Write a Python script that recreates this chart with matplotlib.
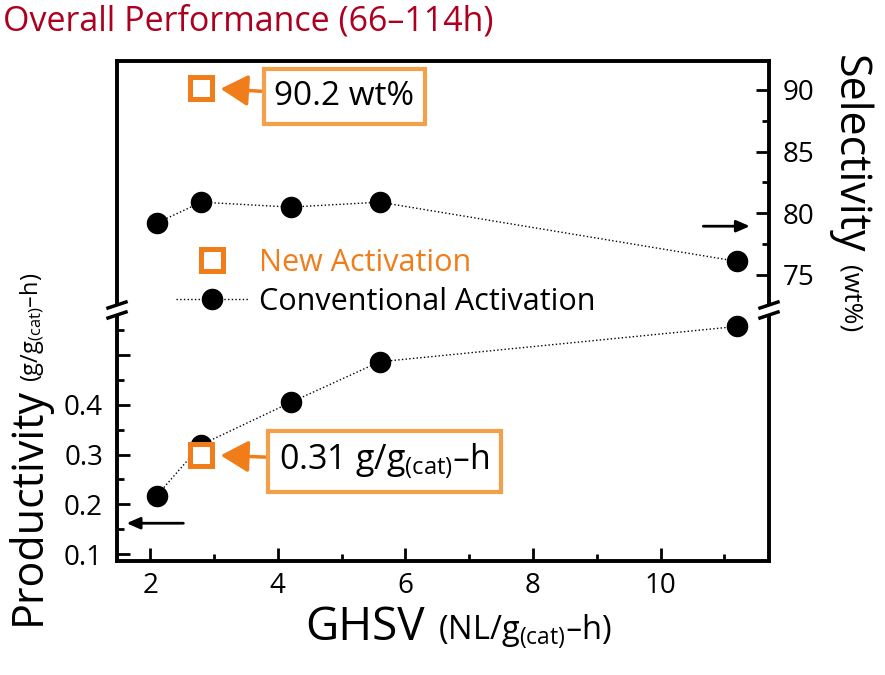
import matplotlib
matplotlib.use('Agg')
import matplotlib.pyplot as plt
from matplotlib.lines import Line2D
from matplotlib.ticker import MultipleLocator, FixedLocator

plt.rcParams['font.family'] = ['Open Sans', 'DejaVu Sans']
plt.rcParams['mathtext.default'] = 'regular'

# data
ghsv = [2.1, 2.8, 4.2, 5.6, 11.2]
conv_selectivity = [79.2, 80.9, 80.5, 80.9, 76.1]
conv_productivity = [0.217, 0.32, 0.405, 0.487, 0.558]
new_ghsv = [2.8]
new_selectivity = [90.2]
new_productivity = [0.30]

orange = '#F07D1A'
box_orange = '#F2A04A'

W, H = 885, 675
fig = plt.figure(figsize=(W / 100, H / 100), dpi=100)


def fx(px):
    return px / W


def fy(py):
    return 1 - py / H


L, R, T, B = 117, 769, 61, 561
ax_top = fig.add_axes([fx(L), fy(304), fx(R) - fx(L), fy(T) - fy(304)])
ax_bot = fig.add_axes([fx(L), fy(B), fx(R) - fx(L), fy(316) - fy(B)])

for ax in (ax_top, ax_bot):
    ax.set_xlim(1.48, 11.7)
    for s in ax.spines.values():
        s.set_linewidth(2.8)

ax_top.spines['bottom'].set_visible(False)
ax_bot.spines['top'].set_visible(False)

# top: selectivity (right axis)
ax_top.set_ylim(72.64, 92.35)
ax_top.tick_params(axis='x', which='both', bottom=False, labelbottom=False)
ax_top.tick_params(axis='y', which='both', left=False, labelleft=False,
                   right=True, labelright=True, direction='in', width=2)
ax_top.tick_params(axis='y', which='major', length=9.5, labelsize=20, pad=10)
ax_top.tick_params(axis='y', which='minor', length=5)
ax_top.yaxis.set_major_locator(FixedLocator([75, 80, 85, 90]))
ax_top.yaxis.set_minor_locator(FixedLocator([77.5, 82.5, 87.5]))

# bottom: productivity (left axis)
ax_bot.set_ylim(0.086, 0.579)
ax_bot.yaxis.set_major_locator(FixedLocator([0.1, 0.2, 0.3, 0.4, 0.5]))
ax_bot.yaxis.set_minor_locator(FixedLocator([0.15, 0.25, 0.35, 0.45, 0.55]))
ax_bot.set_yticklabels(['0.1', '0.2', '0.3', '0.4', ''])
ax_bot.xaxis.set_major_locator(MultipleLocator(2))
ax_bot.xaxis.set_minor_locator(MultipleLocator(1))
ax_bot.tick_params(which='both', direction='in', width=2, top=False, right=False)
ax_bot.tick_params(which='major', length=9.5, labelsize=20)
ax_bot.tick_params(which='minor', length=5)
ax_bot.tick_params(axis='y', pad=10)
ax_bot.tick_params(axis='x', pad=8)

# conventional activation
ax_top.plot(ghsv, conv_selectivity, ls=':', lw=1, color='black',
            marker='o', ms=14.5, zorder=3, clip_on=False)
ax_bot.plot(ghsv, conv_productivity, ls=':', lw=1, color='black',
            marker='o', ms=14.5, zorder=3, clip_on=False)

# new activation
ax_top.plot(new_ghsv, new_selectivity, ls='none', marker='s', ms=16,
            mfc='white', mec=orange, mew=3.6, zorder=4)
ax_bot.plot(new_ghsv, new_productivity, ls='none', marker='s', ms=16,
            mfc='white', mec=orange, mew=3.6, zorder=4)

# call-out boxes
bbox = dict(boxstyle='square,pad=0.32', fc='white', ec=box_orange, lw=3)
arrow = dict(arrowstyle='-|>,head_length=0.7,head_width=0.4', color=orange,
             lw=2.5, shrinkA=0, shrinkB=14)
ax_top.annotate('90.2 wt%', xy=(new_ghsv[0], new_selectivity[0]),
                xytext=(143, -9), textcoords='offset pixels',
                ha='center', va='center', fontsize=24, bbox=bbox,
                arrowprops=arrow, zorder=5)
ax_bot.annotate('0.31 g/g$_{(cat)}$\u2013h', xy=(new_ghsv[0], new_productivity[0]),
                xytext=(183, -7), textcoords='offset pixels',
                ha='center', va='center', fontsize=24.5, bbox=bbox,
                arrowprops=arrow, zorder=5)

# axis direction arrows
black_arrow = dict(arrowstyle='-|>,head_length=0.8,head_width=0.35',
                   color='black', lw=2, shrinkA=0, shrinkB=0)
ax_top.annotate('', xy=(11.4, 78.95), xytext=(10.67, 78.95), arrowprops=black_arrow)
ax_bot.annotate('', xy=(1.63, 0.162), xytext=(2.52, 0.162), arrowprops=black_arrow)

# axis breaks
for xb in (L, R):
    for yb in (305, 315):
        fig.add_artist(Line2D([fx(xb - 9), fx(xb + 9)], [fy(yb + 3), fy(yb - 3)],
                              color='black', lw=2.5))

# legend
h_new = Line2D([], [], ls='none', marker='s', ms=16, mfc='white', mec=orange, mew=3.6)
h_conv = Line2D([], [], ls=':', lw=1, color='black', marker='o', ms=14.5)
leg = fig.legend([h_new, h_conv], ['New Activation', 'Conventional Activation'],
                 loc='upper left', bbox_to_anchor=(fx(176), fy(248)),
                 frameon=False, fontsize=22, handlelength=2.35,
                 handletextpad=0.37, labelspacing=0.3, borderpad=0,
                 borderaxespad=0)
leg.get_texts()[0].set_color(orange)

# labels and title
fig.text(fx(3), fy(22), 'Overall Performance (66\u2013114h)', color='#AD0020',
         fontsize=24.5, ha='left', va='center')
fig.text(fx(305), fy(640), 'GHSV', fontsize=33, ha='left', va='baseline')
fig.text(fx(438), fy(640), '(NL/g$_{(cat)}$\u2013h)', fontsize=23.5,
         ha='left', va='baseline')
fig.text(fx(40), fy(625), 'Productivity', fontsize=31, rotation=90,
         rotation_mode='anchor', ha='left', va='baseline')
fig.text(fx(39), fy(382), '(g/g$_{(cat)}$\u2013h)', fontsize=17, rotation=90,
         rotation_mode='anchor', ha='left', va='baseline')
fig.text(fx(838), fy(55), 'Selectivity', fontsize=31, rotation=270,
         rotation_mode='anchor', ha='left', va='baseline')
fig.text(fx(843), fy(265), '(wt%)', fontsize=19, rotation=270,
         rotation_mode='anchor', ha='left', va='baseline')

fig.savefig('out.png', dpi=100)
